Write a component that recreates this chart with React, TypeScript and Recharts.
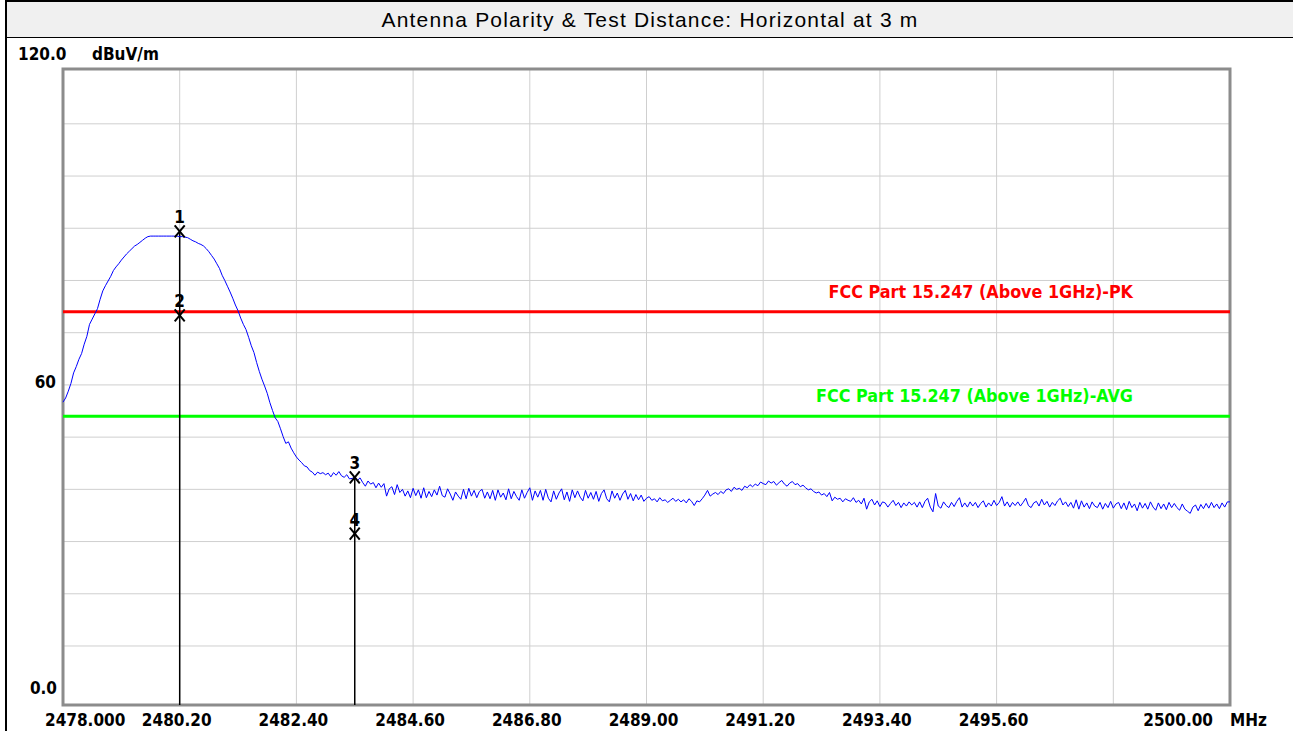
import React from "react";
import {
  ComposedChart,
  Line,
  Scatter,
  XAxis,
  YAxis,
  CartesianGrid,
  ReferenceLine,
  ReferenceArea,
} from "recharts";

// sweep: 2478 - 2500 MHz, 0.05 MHz per point
const SWEEP_START = 2478;
const SWEEP_STEP = 0.05;
const LEVELS = [
  56.7, 57.5, 58.8, 60.3, 62.3, 63.5, 64.9, 66.0, 67.8, 69.3, 71.6, 72.6, 73.6, 74.6, 76.4, 78.0, 79.0, 79.9, 80.8, 81.9,
  82.6, 83.2, 83.9, 84.5, 85.1, 85.6, 86.1, 86.6, 86.9, 87.3, 87.7, 88.1, 88.4, 88.5, 88.5, 88.5, 88.5, 88.5, 88.5, 88.5,
  88.5, 88.5, 88.5, 88.5, 88.4, 88.4, 88.3, 88.2, 87.9, 87.6, 87.4, 87.1, 86.9, 86.6, 86.1, 85.5, 84.8, 84.1, 83.2, 82.3,
  81.0, 80.0, 78.9, 77.8, 76.6, 75.3, 74.2, 72.8, 71.6, 70.6, 69.1, 67.5, 66.2, 64.3, 62.6, 61.1, 59.8, 58.4, 56.6, 55.1,
  53.7, 53.0, 51.6, 50.1, 48.8, 49.1, 47.9, 47.0, 46.2, 45.6, 45.1, 44.5, 44.3, 43.6, 43.3, 42.7, 43.3, 43.0, 43.2, 42.8,
  43.1, 42.4, 43.2, 42.7, 43.4, 42.6, 42.3, 42.8, 42.0, 42.1, 42.3, 41.7, 42.2, 41.3, 40.6, 41.6, 41.0, 41.3, 40.3, 41.2,
  40.4, 41.1, 38.7, 40.1, 40.5, 39.0, 40.9, 39.4, 40.0, 38.7, 39.7, 38.4, 40.2, 38.8, 39.9, 38.3, 40.3, 38.4, 39.6, 38.6,
  39.9, 38.9, 40.6, 38.8, 38.5, 40.1, 39.1, 37.9, 39.5, 38.7, 38.1, 40.0, 38.2, 40.2, 38.7, 39.8, 38.4, 39.6, 40.0, 38.3,
  39.5, 38.2, 39.8, 37.9, 39.9, 38.5, 39.3, 38.0, 40.1, 38.2, 39.6, 38.6, 37.9, 39.9, 38.3, 39.4, 40.3, 37.9, 39.7, 38.5,
  39.8, 37.9, 40.0, 38.3, 37.6, 39.7, 38.1, 39.3, 40.1, 38.0, 39.5, 37.7, 39.9, 38.4, 39.7, 38.5, 37.8, 39.8, 38.3, 39.4,
  38.1, 39.6, 37.7, 39.2, 39.9, 38.2, 37.6, 39.7, 38.3, 39.3, 37.9, 39.1, 39.8, 38.1, 39.2, 37.8, 39.0, 38.0, 38.9, 37.7,
  38.3, 38.6, 37.9, 38.2, 37.6, 38.4, 37.8, 38.0, 37.5, 37.9, 38.3, 37.7, 38.1, 37.6, 38.0, 37.4, 38.2, 37.7, 36.9, 37.8,
  37.6, 38.2, 38.9, 39.8, 38.7, 39.1, 39.4, 39.0, 39.6, 39.2, 39.9, 40.1, 39.6, 40.4, 40.0, 40.2, 39.8, 40.6, 40.3, 40.9,
  40.5, 41.0, 40.7, 41.4, 41.1, 40.9, 41.6, 41.2, 41.5, 40.8, 41.3, 41.7, 41.0, 40.6, 41.2, 41.5, 40.9, 41.1, 40.5, 40.8,
  40.3, 39.9, 40.1, 39.6, 39.3, 39.5, 38.9, 39.2, 38.6, 39.4, 37.8, 38.5, 38.1, 38.3, 37.6, 38.2, 37.9, 37.7, 38.4, 37.5,
  37.9, 37.2, 38.3, 36.2, 37.6, 38.1, 37.0, 37.8, 36.7, 37.6, 37.4, 36.6, 37.3, 37.9, 36.9, 37.5, 36.5, 37.4, 36.8, 37.6,
  37.0, 37.5, 36.6, 37.6, 36.5, 37.7, 38.3, 36.6, 35.7, 39.2, 36.8, 36.4, 37.6, 36.9, 36.5, 37.5, 36.7, 37.7, 38.4, 36.6,
  37.4, 36.6, 37.6, 36.8, 37.5, 36.5, 37.3, 37.8, 36.6, 37.4, 36.8, 37.9, 36.9, 37.5, 38.6, 36.8, 37.6, 36.6, 37.5, 36.9,
  37.6, 36.8, 37.5, 38.3, 36.9, 36.5, 37.4, 37.7, 36.8, 38.1, 37.0, 37.7, 36.6, 37.5, 36.9, 37.8, 38.3, 37.0, 37.6, 36.7,
  37.5, 36.4, 38.0, 36.2, 37.8, 36.6, 37.4, 36.3, 37.6, 36.8, 36.5, 37.5, 36.2, 37.3, 36.5, 37.7, 36.4, 37.2, 37.5, 36.3,
  37.4, 36.1, 37.7, 36.5, 37.2, 35.9, 37.5, 36.4, 37.3, 36.2, 37.6, 36.6, 36.0, 37.4, 36.3, 37.2, 36.1, 37.5, 36.5, 37.3,
  36.5, 36.0, 37.2, 36.2, 35.8, 35.4, 36.6, 37.0, 35.9, 37.1, 36.3, 37.3, 36.4, 37.5, 36.5, 37.2, 36.3, 37.4, 36.6, 37.6,
  37.6,
];

const X_TICKS = [2478, 2480.2, 2482.4, 2484.6, 2486.8, 2489, 2491.2, 2493.4, 2495.6, 2497.8, 2500];
const X_LABELS = ["2478.000", "2480.20", "2482.40", "2484.60", "2486.80", "2489.00", "2491.20", "2493.40", "2495.60", "", "2500.00"];
const Y_TICKS = [0, 10, 20, 30, 40, 50, 60, 70, 80, 90, 100, 110, 120];
const Y_LABELS: Record<number, string> = { 0: "0.0", 60: "60", 120: "120.0" };

const LIMIT_PK = 74;
const LIMIT_AVG = 54;

const MARKERS = [
  { freq: 2480.2, level: 89.4, label: "1" },
  { freq: 2480.2, level: 73.3, label: "2" },
  { freq: 2483.5, level: 42.3, label: "3" },
  { freq: 2483.5, level: 31.5, label: "4" },
];

const Y_MIN = -1.3;
const Y_MAX = 120.5;

const trace = LEVELS.map((level, i) => ({
  freq: +(SWEEP_START + i * SWEEP_STEP).toFixed(2),
  level,
}));

const AXIS_FONT = "'DejaVu Sans Condensed', 'DejaVu Sans', sans-serif";

function XTick(props: any) {
  const { x, index } = props;
  const label = X_LABELS[index] ?? "";
  const last = index === X_TICKS.length - 1;
  const first = index === 0;
  const common = { fontFamily: AXIS_FONT, fontWeight: 700, fontSize: 17, fill: "#000" };
  if (first) {
    return <text x={x - 18} y={726} textAnchor="start" {...common}>{label}</text>;
  }
  if (last) {
    return (
      <g>
        <text x={x - 17} y={726} textAnchor="end" {...common}>{label}</text>
        <text x={x} y={726} textAnchor="start" {...common}>MHz</text>
      </g>
    );
  }
  return <text x={x - 3} y={726} textAnchor="middle" {...common}>{label}</text>;
}

function YTick(props: any) {
  const { y, payload } = props;
  const label = Y_LABELS[payload.value];
  if (!label) return <g />;
  const common = { fontFamily: AXIS_FONT, fontWeight: 700, fontSize: 17, fill: "#000" };
  if (payload.value === 120) {
    return (
      <g>
        <text x={18} y={y - 12} textAnchor="start" {...common}>{label}</text>
        <text x={92} y={y - 12} textAnchor="start" {...common}>dBuV/m</text>
      </g>
    );
  }
  if (payload.value === 60) {
    return <text x={56} y={y + 3} textAnchor="end" {...common}>{label}</text>;
  }
  return <text x={57} y={y - 4} textAnchor="end" {...common}>{label}</text>;
}

function LimitLabel(props: any) {
  const { viewBox, text, color } = props;
  if (!viewBox) return null;
  return (
    <text
      x={viewBox.x + viewBox.width - 97}
      y={viewBox.y - 14}
      textAnchor="end"
      fontFamily={AXIS_FONT}
      fontWeight={700}
      fontSize={17.8}
      fill={color}
    >
      {text}
    </text>
  );
}

function MarkerShape(props: any) {
  const { cx, cy, payload } = props;
  if (cx == null || cy == null) return <g />;
  return (
    <g>
      <line x1={cx - 5} y1={cy - 6} x2={cx + 5} y2={cy + 6} stroke="#000" strokeWidth={2} />
      <line x1={cx - 5} y1={cy + 6} x2={cx + 5} y2={cy - 6} stroke="#000" strokeWidth={2} />
      <text x={cx} y={cy - 8} textAnchor="middle" fontFamily={AXIS_FONT} fontWeight={700} fontSize={17} fill="#000">
        {payload.label}
      </text>
    </g>
  );
}

export default function App() {
  return (
    <div style={{ position: "absolute", left: 0, top: 0, width: 1293, height: 731, background: "#fff", overflow: "hidden" }}>
      <div style={{ position: "absolute", left: 5, top: 0, width: 2, height: 731, background: "#000" }} />
      <div
        style={{
          position: "absolute",
          left: 7,
          top: 0,
          width: 1286,
          height: 35,
          background: "#f0f0f0",
          borderTop: "2px solid #000",
          borderBottom: "1.5px solid #000",
          fontFamily: "'Liberation Sans', Arial, sans-serif",
          fontSize: 21,
          letterSpacing: 1.2,
          lineHeight: "35px",
          textAlign: "center",
          color: "#000",
        }}
      >
        Antenna Polarity &amp; Test Distance: Horizontal at 3 m
      </div>
      <div style={{ position: "absolute", left: 0, top: 0 }}>
        <ComposedChart width={1293} height={731} data={trace} margin={{ top: 69, right: 63, bottom: 0, left: 0 }}>
          <CartesianGrid
            stroke="#cfcfcf"
            strokeWidth={1}
            verticalValues={X_TICKS.slice(1, -1)}
            horizontalValues={Y_TICKS.slice(1, -1)}
          />
          <XAxis
            dataKey="freq"
            type="number"
            domain={[2478, 2500]}
            ticks={X_TICKS}
            height={26}
            axisLine={false}
            tickLine={false}
            interval={0}
            tick={<XTick />}
          />
          <YAxis
            type="number"
            domain={[Y_MIN, Y_MAX]}
            ticks={Y_TICKS}
            width={63}
            axisLine={false}
            tickLine={false}
            interval={0}
            allowDataOverflow
            tick={<YTick />}
          />
          <ReferenceLine
            y={LIMIT_PK}
            stroke="#ff0000"
            strokeWidth={3}
            label={<LimitLabel text="FCC Part 15.247 (Above 1GHz)-PK" color="#ff0000" />}
          />
          <ReferenceLine
            y={LIMIT_AVG}
            stroke="#00ff00"
            strokeWidth={3}
            label={<LimitLabel text="FCC Part 15.247 (Above 1GHz)-AVG" color="#00ff00" />}
          />
          <ReferenceLine
            segment={[{ x: MARKERS[0].freq, y: MARKERS[0].level }, { x: MARKERS[0].freq, y: Y_MIN }]}
            stroke="#000"
            strokeWidth={1.5}
          />
          <ReferenceLine
            segment={[{ x: MARKERS[2].freq, y: MARKERS[2].level }, { x: MARKERS[2].freq, y: Y_MIN }]}
            stroke="#000"
            strokeWidth={1.5}
          />
          <Line
            dataKey="level"
            stroke="#0000ff"
            strokeWidth={1}
            dot={false}
            type="linear"
            isAnimationActive={false}
          />
          <Scatter data={MARKERS} dataKey="level" shape={<MarkerShape />} isAnimationActive={false} />
          <ReferenceArea
            x1={2478}
            x2={2500}
            y1={Y_MIN}
            y2={Y_MAX}
            fill="none"
            fillOpacity={0}
            stroke="#8c8c8c"
            strokeWidth={3}
            ifOverflow="visible"
          />
        </ComposedChart>
      </div>
    </div>
  );
}
